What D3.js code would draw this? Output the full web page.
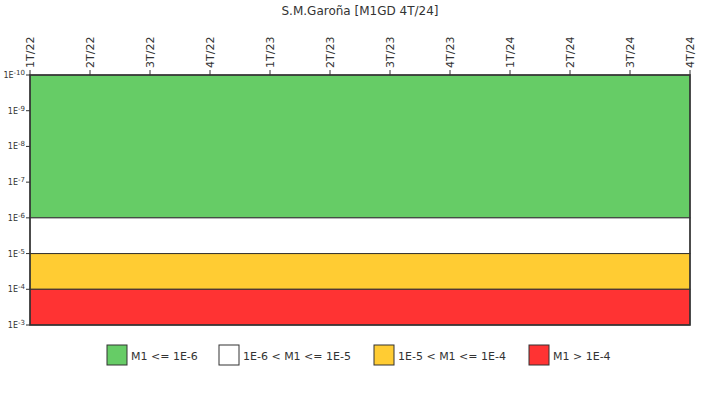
<!DOCTYPE html>
<html><head><meta charset="utf-8">
<script src="https://cdn.jsdelivr.net/npm/d3@7"></script>
<style>body{margin:0;background:#fff}text{font-family:Verdana,"DejaVu Sans",sans-serif;fill:#333}</style>
</head><body><svg width="720" height="400"></svg>
<script>
var quarters = ["1T/22","2T/22","3T/22","4T/22","1T/23","2T/23","3T/23","4T/23","1T/24","2T/24","3T/24","4T/24"]
var yTicks = [-10,-9,-8,-7,-6,-5,-4,-3]
var bands = [
  {from: 1e-10, to: 1e-6, color: "#66cc66", label: "M1 <= 1E-6"},
  {from: 1e-6, to: 1e-5, color: "#ffffff", label: "1E-6 < M1 <= 1E-5"},
  {from: 1e-5, to: 1e-4, color: "#ffcc33", label: "1E-5 < M1 <= 1E-4"},
  {from: 1e-4, to: 1e-3, color: "#ff3333", label: "M1 > 1E-4"}
]
var legendX = [107, 219, 374, 529]

var svg = d3.select("svg")
var pLeft = 30, pRight = 690, pTop = 75, pBottom = 325

var x = d3.scalePoint().domain(quarters).range([pLeft, pRight])
var y = d3.scaleLog().domain([1e-10, 1e-3]).range([pTop, pBottom])

svg.append("text").attr("x", 360).attr("y", 15).attr("text-anchor", "middle")
  .style("font-size", "12px").text("S.M.Garoña [M1GD 4T/24]")

svg.selectAll("rect.band").data(bands).enter().append("rect")
  .attr("x", pLeft).attr("width", pRight - pLeft)
  .attr("y", d => y(d.from)).attr("height", d => y(d.to) - y(d.from))
  .attr("fill", d => d.color).attr("stroke", "#333").attr("stroke-width", 1)

svg.append("rect").attr("x", pLeft).attr("y", pTop).attr("width", pRight - pLeft).attr("height", pBottom - pTop)
  .attr("fill", "none").attr("stroke", "#333").attr("stroke-width", 1.5)

// x axis on top, rotated labels
var xa = svg.append("g")
quarters.forEach(function(q) {
  var px = x(q)
  xa.append("line").attr("x1", px).attr("x2", px).attr("y1", pTop - 5).attr("y2", pTop).attr("stroke", "#333")
  xa.append("text").attr("transform", `translate(${px + 4},${pTop - 7}) rotate(-90)`)
    .style("font-size", "11px").text(q)
})

// y axis with superscript exponents
var ya = svg.append("g")
yTicks.forEach(function(e) {
  var py = y(Math.pow(10, e))
  ya.append("line").attr("x1", pLeft - 4).attr("x2", pLeft).attr("y1", py).attr("y2", py).attr("stroke", "#333")
  var t = ya.append("text").attr("x", pLeft - 5).attr("y", py + 3).attr("text-anchor", "end").style("font-size", "8px")
  t.append("tspan").text("1E")
  t.append("tspan").attr("dy", -3).style("font-size", "7px").text(e)
})

var lg = svg.selectAll("g.leg").data(bands).enter().append("g")
  .attr("transform", (d, i) => `translate(${legendX[i]},345)`)
lg.append("rect").attr("width", 20).attr("height", 20).attr("fill", d => d.color).attr("stroke", "#333")
lg.append("text").attr("x", 24).attr("y", 15).style("font-size", "11px").text(d => d.label)
</script></body></html>
